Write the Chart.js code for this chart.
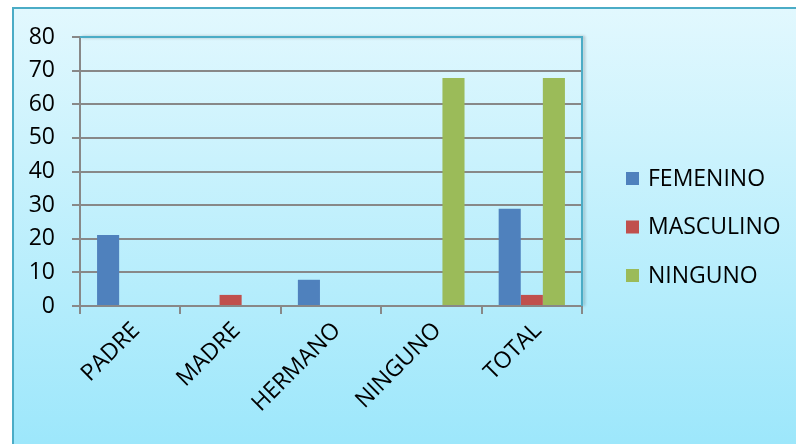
<!DOCTYPE html>
<html>
<head>
<meta charset="utf-8">
<script src="https://cdn.jsdelivr.net/npm/chart.js@4"></script>
<style>
  html, body { margin: 0; padding: 0; background: #fff; }
  #wrap { width: 796px; height: 444px; position: relative; }
</style>
</head>
<body>
<div id="wrap"><canvas id="graphsCanvas" width="796" height="444"></canvas></div>
<script>
// data (percent)
const categories = ['PADRE', 'MADRE', 'HERMANO', 'NINGUNO', 'TOTAL'];
const femenino = [21.1, 0, 7.8, 0, 28.9];
const masculino = [0, 3.3, 0, 0, 3.3];
const ninguno = [0, 0, 0, 67.8, 67.8];
const seriesNames = ['FEMENINO', 'MASCULINO', 'NINGUNO'];
const COLORS = ['#4F81BD', '#C0504D', '#9BBB59'];

const FONT = "'Open Sans', sans-serif";
const TEAL = '#4BACC6';

// background, frame, plot border and legend
const framePlugin = {
  id: 'frame',
  beforeDraw(chart) {
    const ctx = chart.ctx;
    ctx.save();
    ctx.fillStyle = '#fff';
    ctx.fillRect(0, 0, chart.width, chart.height);
    const g = ctx.createLinearGradient(0, 7, 0, chart.height);
    g.addColorStop(0, '#e2f8fe');
    g.addColorStop(1, '#9de7fb');
    ctx.fillStyle = g;
    ctx.fillRect(12, 7, chart.width - 12, chart.height - 7);
    ctx.strokeStyle = TEAL;
    ctx.lineWidth = 2;
    ctx.beginPath();
    ctx.moveTo(13, chart.height);
    ctx.lineTo(13, 8);
    ctx.lineTo(chart.width, 8);
    ctx.stroke();
    ctx.restore();
  },
  afterDatasetsDraw(chart) {
    const ctx = chart.ctx;
    const a = chart.chartArea;
    ctx.save();
    ctx.strokeStyle = TEAL;
    ctx.lineWidth = 2;
    ctx.shadowColor = 'rgba(0,0,0,0.25)';
    ctx.shadowBlur = 3;
    ctx.shadowOffsetX = 2;
    ctx.beginPath();
    ctx.moveTo(a.left, a.top);
    ctx.lineTo(a.right, a.top);
    ctx.lineTo(a.right, a.bottom);
    ctx.stroke();
    ctx.restore();

    // legend
    ctx.save();
    ctx.font = '23px ' + FONT;
    ctx.textBaseline = 'middle';
    chart.data.datasets.forEach((ds, i) => {
      const y = 178 + i * 48.5;
      ctx.fillStyle = ds.backgroundColor;
      ctx.fillRect(626, y - 6, 13, 13);
      ctx.fillStyle = '#000';
      ctx.fillText(ds.label, 648, y + 1);
    });
    ctx.restore();
  }
};

new Chart(document.getElementById('graphsCanvas'), {
  type: 'bar',
  data: {
    labels: categories,
    datasets: [
      { label: seriesNames[0], data: femenino, backgroundColor: COLORS[0] },
      { label: seriesNames[1], data: masculino, backgroundColor: COLORS[1] },
      { label: seriesNames[2], data: ninguno, backgroundColor: COLORS[2] }
    ]
  },
  options: {
    responsive: false,
    animation: false,
    layout: { padding: { left: 0, top: 37, right: 214, bottom: 0 } },
    datasets: { bar: { categoryPercentage: 0.66, barPercentage: 1 } },
    plugins: { legend: { display: false }, tooltip: { enabled: false } },
    scales: {
      x: {
        afterFit(s) { s.height = 138; },
        grid: { offset: true, drawOnChartArea: false, color: '#888', lineWidth: 2, tickLength: 8 },
        border: { color: '#888', width: 2 },
        ticks: {
          color: '#000', font: { family: FONT, size: 23 },
          minRotation: 45, maxRotation: 45, autoSkip: false, padding: 3, labelOffset: 6
        }
      },
      y: {
        min: 0, max: 80,
        afterFit(s) { s.width = 80; },
        grid: { color: '#888', lineWidth: 2, tickLength: 8 },
        border: { color: '#888', width: 2 },
        ticks: { stepSize: 10, color: '#000', font: { family: FONT, size: 23 }, padding: 17 }
      }
    }
  },
  plugins: [framePlugin]
});
</script>
</body>
</html>
